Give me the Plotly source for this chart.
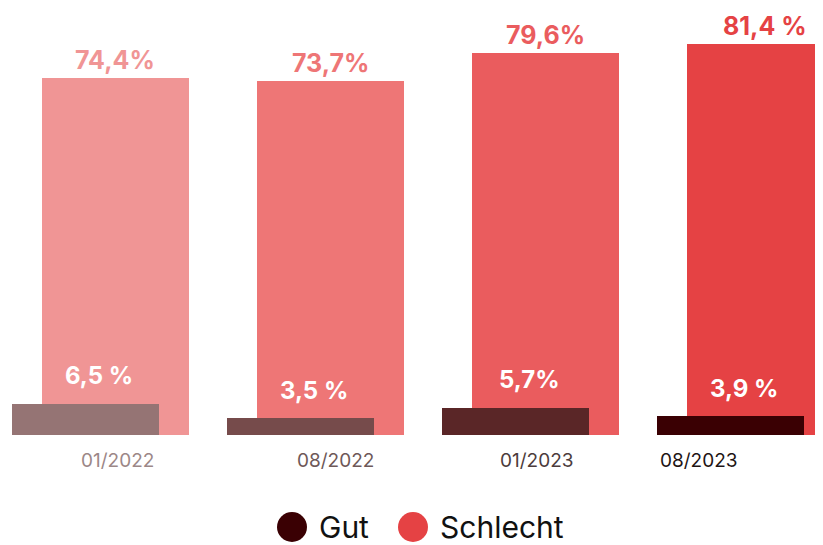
import plotly.graph_objects as go

# data
periods = ["01/2022", "08/2022", "01/2023", "08/2023"]
schlecht = [74.4, 73.7, 79.6, 81.4]
gut = [6.5, 3.5, 5.7, 3.9]
schlecht_text = ["74,4%", "73,7%", "79,6%", "81,4 %"]
gut_text = ["6,5 %", "3,5 %", "5,7%", "3,9 %"]
series_names = ["Gut", "Schlecht"]

# styling
SCHLECHT_COLORS = ["#F09595", "#EE7676", "#EA5C5E", "#E54244"]
GUT_COLORS = ["#957474", "#764B4B", "#5A2627", "#3A0003"]
TICK_COLORS = ["#9C8787", "#6E5858", "#4C3C3C", "#1E1414"]
TICK_SHIFT = [2, 5, -9, -62]
LABEL_SHIFT = [0, 0, 0, 5]
FONT = "Inter, sans-serif"

# page body has an 8px margin, so the figure is 8px smaller than the window
W, H = 815, 537
BOTTOM = 110  # px below the bar baseline
BAR_W = 0.684
GUT_OFFSET = -0.14
LEGEND_X = [284, 405]
LEGEND_Y = 519

pos = list(range(len(periods)))

fig = go.Figure()
fig.add_trace(go.Bar(
    x=pos, y=schlecht, width=BAR_W,
    marker_color=SCHLECHT_COLORS, marker_line_width=0,
    name="Schlecht", showlegend=False,
))
fig.add_trace(go.Bar(
    x=pos, y=gut, width=BAR_W, offset=-BAR_W / 2 + GUT_OFFSET,
    marker_color=GUT_COLORS, marker_line_width=0,
    name="Gut", showlegend=False,
))

# legend drawn as markers on a helper axis (circles are bigger than plotly's legend allows)
fig.add_trace(go.Scatter(
    x=LEGEND_X, y=[LEGEND_Y] * 2, xaxis="x2", yaxis="y2",
    mode="markers",
    marker=dict(size=30, color=[GUT_COLORS[-1], SCHLECHT_COLORS[-1]]),
    showlegend=False, hoverinfo="skip",
))

annotations = []
for name, lx in zip(series_names, LEGEND_X):
    annotations.append(dict(
        x=lx + 25, y=LEGEND_Y, xref="x2", yref="y2",
        text=name, showarrow=False, xanchor="left", yanchor="middle",
        font=dict(family=FONT, size=30, color="#111111"),
    ))
for i in pos:
    annotations.append(dict(
        x=i, y=schlecht[i], xref="x", yref="y",
        text=f"<b>{schlecht_text[i]}</b>", showarrow=False,
        yanchor="middle", yshift=18, xshift=LABEL_SHIFT[i],
        font=dict(family=FONT, size=25, color=SCHLECHT_COLORS[i]),
    ))
    annotations.append(dict(
        x=i, y=gut[i], xref="x", yref="y",
        text=f"<b>{gut_text[i]}</b>", showarrow=False,
        yanchor="middle", yshift=28, xshift=-16,
        font=dict(family=FONT, size=24, color="white"),
    ))
    annotations.append(dict(
        x=i, y=BOTTOM / H, xref="x", yref="paper",
        text=periods[i], showarrow=False,
        yanchor="middle", yshift=-25, xshift=TICK_SHIFT[i],
        font=dict(family=FONT, size=19, color=TICK_COLORS[i]),
    ))

fig.update_layout(
    width=W, height=H,
    margin=dict(l=0, r=0, t=0, b=0),
    plot_bgcolor="white", paper_bgcolor="white",
    barmode="overlay", bargap=0,
    showlegend=False,
    xaxis=dict(range=[-0.5, 3.291], visible=False, fixedrange=True),
    yaxis=dict(range=[0, 88.96], domain=[BOTTOM / H, 1], visible=False),
    xaxis2=dict(range=[0, W], domain=[0, 1], anchor="y2", visible=False),
    yaxis2=dict(range=[H, H - BOTTOM], domain=[0, BOTTOM / H], anchor="x2", visible=False),
    annotations=annotations,
)

fig.write_html("out.html")
